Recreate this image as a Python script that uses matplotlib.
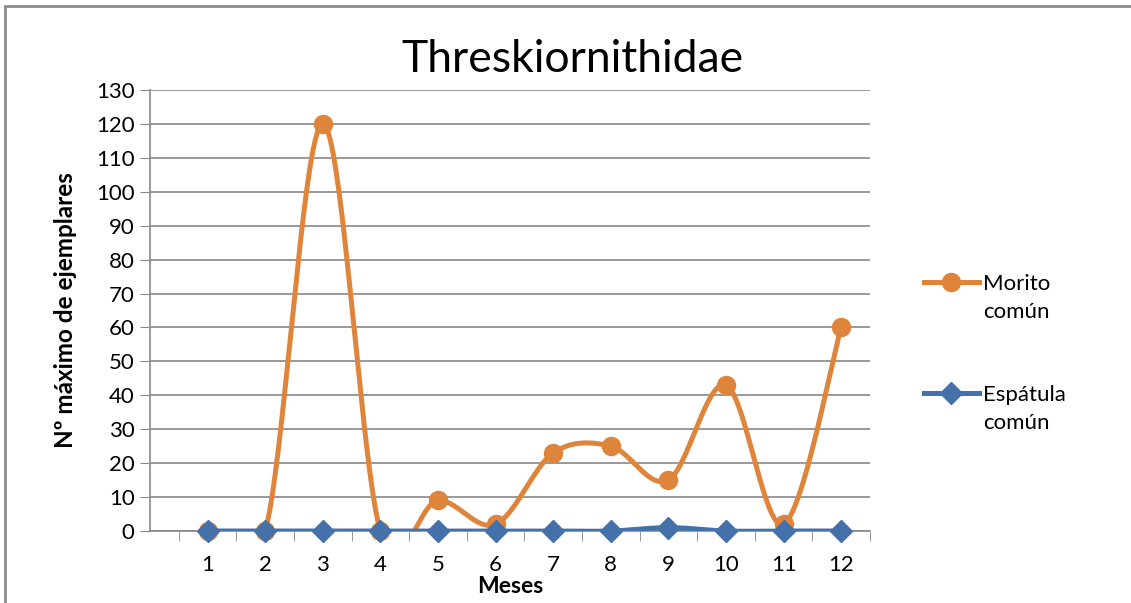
import numpy as np
import matplotlib.pyplot as plt
from matplotlib.lines import Line2D
from matplotlib.patches import Rectangle

plt.rcParams['font.family'] = ['Lato', 'DejaVu Sans']

meses = [1, 2, 3, 4, 5, 6, 7, 8, 9, 10, 11, 12]
morito = [0, 0, 120, 0, 9, 2, 23, 25, 15, 43, 2, 60]
espatula = [0, 0, 0, 0, 0, 0, 0, 0, 1, 0, 0, 0]
series_names = ['Morito\ncomún', 'Espátula\ncomún']

orange = '#DF843B'
blue = '#4571AB'
grid_c = '#888888'
W, H = 1131, 603


def smooth(x, y, n=40):
    # Catmull-Rom style bezier, the way Excel smooths lines
    x = np.asarray(x, float)
    y = np.asarray(y, float)
    px = np.concatenate([[x[0]], x, [x[-1]]])
    py = np.concatenate([[y[0]], y, [y[-1]]])
    xs, ys = [], []
    t = np.linspace(0, 1, n)
    for i in range(1, len(px) - 2):
        p0 = np.array([px[i], py[i]])
        p3 = np.array([px[i + 1], py[i + 1]])
        p1 = p0 + (np.array([px[i + 1], py[i + 1]]) - np.array([px[i - 1], py[i - 1]])) / 6
        p2 = p3 - (np.array([px[i + 2], py[i + 2]]) - np.array([px[i], py[i]])) / 6
        b = ((1 - t) ** 3)[:, None] * p0 + (3 * (1 - t) ** 2 * t)[:, None] * p1 \
            + (3 * (1 - t) * t ** 2)[:, None] * p2 + (t ** 3)[:, None] * p3
        xs.extend(b[:, 0])
        ys.extend(b[:, 1])
    return xs, ys


fig = plt.figure(figsize=(W / 100, H / 100), dpi=100)
ax = fig.add_axes([150 / W, 1 - 531 / H, 720 / W, 441 / H])

sx, sy = smooth(meses, morito)
ax.plot(sx, sy, color=orange, lw=3.6, zorder=3, solid_capstyle='round')
ax.plot(meses, morito, 'o', color=orange, ms=13, zorder=4, clip_on=False)
sx, sy = smooth(meses, espatula)
ax.plot(sx, sy, color=blue, lw=3.6, zorder=5, solid_capstyle='round')
ax.plot(meses, espatula, 'D', color=blue, ms=11, zorder=6, clip_on=False)

ax.set_xlim(0, 12.5)
ax.set_ylim(0, 130)
ax.set_yticks(range(0, 131, 10))
ax.set_xticks(meses)
ax.set_xticks(np.arange(0.5, 13, 1), minor=True)
ax.tick_params(axis='x', which='major', length=0, pad=17, labelsize=16)
ax.tick_params(axis='x', which='minor', length=7, color=grid_c, direction='out')
ax.tick_params(axis='y', length=7, color=grid_c, labelsize=16, pad=4)
ax.yaxis.grid(True, color=grid_c, lw=1.2)
ax.set_axisbelow(True)
for s in ['top', 'right']:
    ax.spines[s].set_visible(False)
ax.spines['left'].set_color(grid_c)
ax.spines['bottom'].set_color(grid_c)
ax.spines['left'].set_linewidth(1.2)
ax.spines['bottom'].set_linewidth(1.2)

ax.set_ylabel('N\u00ba máximo de ejemplares', fontsize=17.5, fontweight='bold', labelpad=14)
ax.set_xlabel('Meses', fontsize=16.5, fontweight='bold', labelpad=1)
fig.text(572 / W, 1 - 60 / H, 'Threskiornithidae', fontsize=32,
         ha='center', va='center')

# legend drawn by hand, like Excel's: handle beside the first line of the label
styles = [(orange, 'o', 13), (blue, 'D', 11)]
for k, (name, (c, m, ms)) in enumerate(zip(series_names, styles)):
    yl = 1 - (282 + 111 * k) / H
    fig.add_artist(Line2D([924 / W, 979 / W], [yl, yl], color=c, lw=3.6,
                          transform=fig.transFigure))
    fig.add_artist(Line2D([951 / W], [yl], color=c, marker=m, ms=ms,
                          transform=fig.transFigure))
    fig.text(983 / W, yl - 16 / H, name, fontsize=16, ha='left', va='center',
             linespacing=1.5, transform=fig.transFigure)

fig.patches.append(Rectangle((5 / W, -0.1), 1.2, 1 - 6 / H + 0.1,
                             transform=fig.transFigure, fill=False,
                             edgecolor='#8c8c8c', lw=2))

fig.savefig('out.png', dpi=100)
